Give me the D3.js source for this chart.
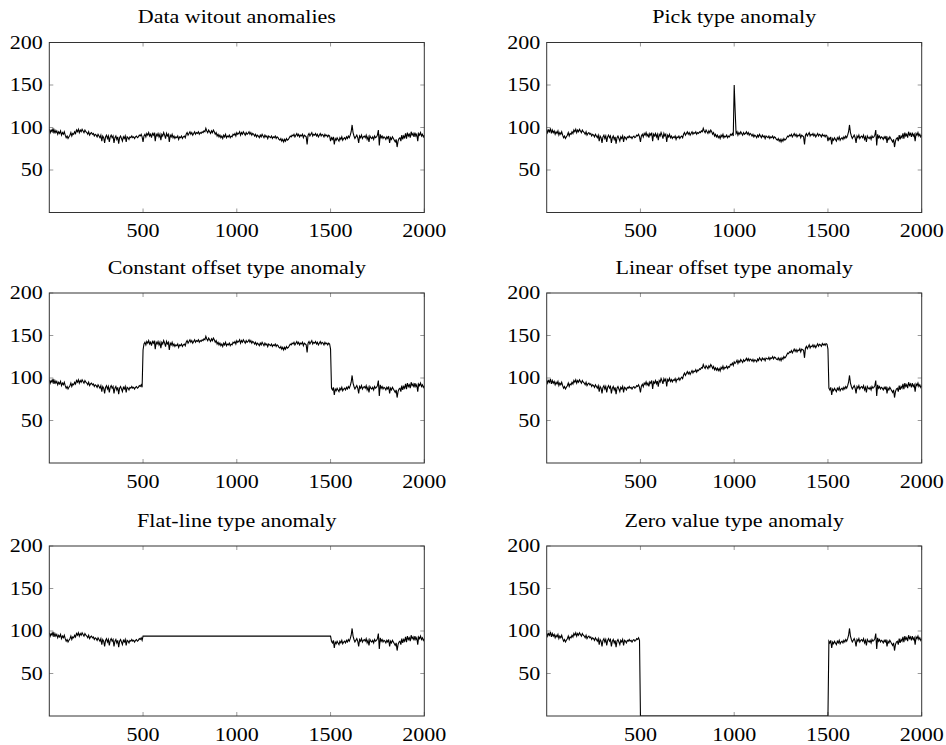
<!DOCTYPE html>
<html>
<head>
<meta charset="utf-8">
<script src="https://cdn.jsdelivr.net/npm/d3@7"></script>
<style>
    body { margin: 0; background: #fff; }
</style>
</head>
<body>
<svg id="chart" width="946" height="745"></svg>
<script>
// one value every 5 samples, 0..2000
var sample_step = 5;

var base_values = [
    98, 94, 97, 95, 99, 93, 97, 94, 96, 92, 95, 93, 96, 91, 94, 92, 95, 91, 88, 90,
    87, 89, 91, 94, 90, 93, 92, 95, 93, 97, 95, 98, 94, 97, 95, 98, 96, 94, 97, 95,
    94, 92, 95, 91, 93, 94, 92, 93, 90, 92, 91, 89, 92, 90, 88, 91, 84, 90, 88, 82,
    89, 91, 87, 90, 83, 89, 91, 88, 90, 82, 88, 90, 86, 89, 81, 88, 90, 87, 84, 89,
    87, 90, 83, 89, 88, 86, 89, 88, 90, 88, 89, 87, 89, 90, 88, 89, 91, 90, 92, 89,
    83, 90, 92, 89, 93, 91, 94, 90, 92, 88, 93, 91, 94, 84, 92, 90, 93, 89, 92, 85,
    92, 90, 94, 91, 87, 93, 90, 92, 83, 91, 89, 92, 88, 90, 87, 89, 88, 90, 86, 89,
    88, 90, 87, 89, 90, 88, 92, 94, 91, 93, 95, 92, 94, 91, 93, 95, 92, 94, 93, 95,
    92, 94, 93, 95, 94, 96, 95, 99, 96, 94, 97, 95, 93, 96, 94, 97, 95, 92, 94, 90,
    92, 89, 91, 88, 90, 87, 91, 89, 92, 88, 90, 89, 91, 88, 90, 89, 92, 91, 93, 90,
    94, 92, 93, 95, 91, 94, 92, 95, 93, 91, 94, 92, 93, 95, 92, 94, 91, 93, 92, 90,
    92, 89, 91, 90, 88, 91, 89, 92, 90, 88, 91, 89, 90, 87, 90, 89, 88, 90, 87, 89,
    88, 90, 87, 89, 88, 86, 85, 87, 84, 86, 83, 86, 84, 87, 85, 86, 88, 90, 89, 91,
    90, 92, 89, 91, 93, 90, 92, 89, 91, 90, 92, 88, 91, 90, 89, 80, 91, 93, 90, 92,
    94, 90, 92, 91, 93, 90, 92, 89, 91, 93, 90, 92, 91, 89, 92, 90, 91, 89, 91, 90,
    84, 88, 86, 89, 80, 87, 85, 88, 86, 84, 88, 86, 89, 85, 87, 88, 86, 89, 87, 90,
    88, 91, 95, 103, 94, 90, 87, 89, 91, 88, 82, 90, 88, 91, 87, 89, 90, 88, 91, 86,
    89, 83, 90, 88, 87, 89, 86, 90, 88, 89, 91, 97, 79, 92, 88, 90, 87, 89, 88, 86,
    89, 87, 90, 82, 88, 86, 89, 87, 85, 83, 86, 77, 84, 87, 88, 84, 91, 86, 90, 88,
    93, 87, 94, 90, 92, 88, 95, 91, 93, 89, 94, 90, 92, 84, 93, 91, 94, 90, 92, 89,
    91
];

// pick anomaly: [sample, value] replacing the base value
var pick_points = [[1000, 150], [1005, 120]];

var panel_titles = [
    'Data witout anomalies',
    'Pick type anomaly',
    'Constant offset type anomaly',
    'Linear offset type anomaly',
    'Flat-line type anomaly',
    'Zero value type anomaly'
];
var anomaly_types = ['none', 'pick', 'constant', 'linear', 'flat', 'zero'];

var anomaly_start = 500,
    anomaly_end = 1500;
var constant_offset = 50;   // shift of the constant offset anomaly
var linear_offset = 50;     // shift reached at the end of the linear anomaly
var flat_value = 94;
var zero_value = 0;

var x_ticks = [500, 1000, 1500, 2000];
var y_ticks = [50, 100, 150, 200];

var col_x = [49.3, 546.7],
    row_y = [42.5, 293, 546],
    plot_w = 375,
    plot_h = 170;

var font = '"Liberation Serif", "Times New Roman", serif';
var font_size = 19,
    text_stretch = 1.16;   // the picture's text is wider than it is tall

var base = base_values.map(function(v, i) { return [i * sample_step, v]; });

function anomaly_value(type, x, v) {
    if (type == 'constant') return v + constant_offset;
    if (type == 'linear') return v + linear_offset * (x - anomaly_start) / (anomaly_end - anomaly_start);
    if (type == 'flat') return flat_value;
    if (type == 'zero') return zero_value;
    return v;
}

function build_series(type) {
    if (type == 'none') return base;
    if (type == 'pick') {
        var picks = new Map(pick_points);
        return base.map(d => picks.has(d[0]) ? [d[0], picks.get(d[0])] : d);
    }
    return base.map(function(d) {
        if (d[0] >= anomaly_start && d[0] <= anomaly_end)
            return [d[0], anomaly_value(type, d[0], d[1])];
        return d;
    });
}

// text placed at (tx, ty) and stretched horizontally
function add_label(parent, tx, ty, anchor, dy, str) {
    return parent.append('text')
        .attr('transform', 'translate(' + tx + ',' + ty + ') scale(' + text_stretch + ',1)')
        .attr('dy', dy)
        .attr('text-anchor', anchor)
        .attr('font-family', font)
        .attr('font-size', font_size)
        .attr('fill', '#000')
        .text(str);
}

var svg = d3.select('#chart');

var x = d3.scaleLinear().domain([0, 2000]).range([0, plot_w]);
var y = d3.scaleLinear().domain([0, 200]).range([plot_h, 0]);

var line = d3.line()
    .x(function(d) { return x(d[0]); })
    .y(function(d) { return y(d[1]); });

svg.append('defs').append('clipPath')
    .attr('id', 'plotclip')
    .append('rect')
        .attr('width', plot_w)
        .attr('height', plot_h);

panel_titles.forEach(function(title, k) {
    var g = svg.append('g')
        .attr('transform', 'translate(' + col_x[k % 2] + ',' + row_y[Math.floor(k / 2)] + ')');

    add_label(g, plot_w / 2, -19.5, 'middle', 0, title);

    // inner ticks on all four sides
    var ticks = g.append('g').attr('stroke', '#999').attr('stroke-width', 1);
    x_ticks.forEach(function(t) {
        ticks.append('line').attr('x1', x(t)).attr('x2', x(t)).attr('y1', plot_h).attr('y2', plot_h - 4);
        ticks.append('line').attr('x1', x(t)).attr('x2', x(t)).attr('y1', 0).attr('y2', 4);
    });
    y_ticks.forEach(function(t) {
        ticks.append('line').attr('y1', y(t)).attr('y2', y(t)).attr('x1', 0).attr('x2', 4);
        ticks.append('line').attr('y1', y(t)).attr('y2', y(t)).attr('x1', plot_w).attr('x2', plot_w - 4);
    });

    g.append('path')
        .datum(build_series(anomaly_types[k]))
        .attr('clip-path', 'url(#plotclip)')
        .attr('fill', 'none')
        .attr('stroke', '#000')
        .attr('stroke-width', 1.1)
        .attr('d', line);

    g.append('rect')
        .attr('width', plot_w)
        .attr('height', plot_h)
        .attr('fill', 'none')
        .attr('stroke', '#333')
        .attr('stroke-width', 1);

    x_ticks.forEach(function(t) {
        add_label(g, x(t), plot_h + 24.7, 'middle', 0, t);
    });
    y_ticks.forEach(function(t) {
        add_label(g, -6.5, y(t), 'end', '0.33em', t);
    });
});
</script>
</body>
</html>
